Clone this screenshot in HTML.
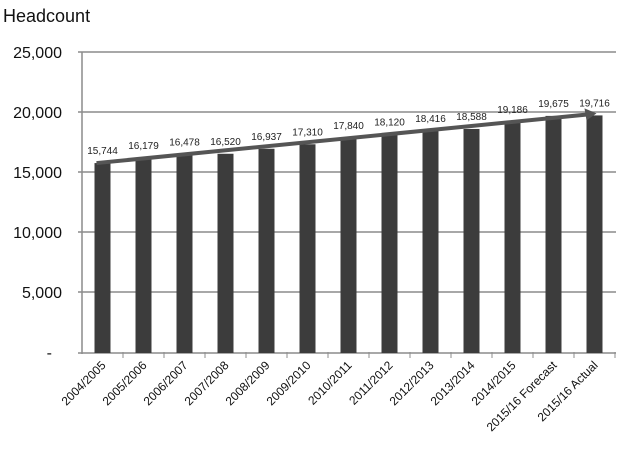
<!DOCTYPE html>
<html><head><meta charset="utf-8"><style>
body{margin:0;background:#fff;}
svg{display:block;font-family:"Liberation Sans",sans-serif;}
</style></head><body>
<svg id="chart" width="628" height="452">
<text x="3" y="22" font-size="18" fill="#111">Headcount</text>
<g id="grid"></g><g id="bars"></g><g id="labels"></g>
</svg>
<script>
const categories=["2004/2005","2005/2006","2006/2007","2007/2008","2008/2009","2009/2010","2010/2011","2011/2012","2012/2013","2013/2014","2014/2015","2015/16 Forecast","2015/16 Actual"];
const values=[15744,16179,16478,16520,16937,17310,17840,18120,18416,18588,19186,19675,19716];
const yTicks=[0,5000,10000,15000,20000,25000];
const yTickLabels=["-","5,000","10,000","15,000","20,000","25,000"];
const NS="http://www.w3.org/2000/svg";
const x0=82,step=41,y0=352,pxPer=60/5000;
const y=v=>y0-v*pxPer;
const xc=i=>x0+step*i+step/2;
function mk(tag,attrs,parent,text){const e=document.createElementNS(NS,tag);for(const k in attrs)e.setAttribute(k,attrs[k]);if(text!=null)e.textContent=text;parent.appendChild(e);return e;}
const svg=document.getElementById('chart');
const grid=document.getElementById('grid'),bars=document.getElementById('bars'),labels=document.getElementById('labels');
yTicks.forEach((t,i)=>{
  if(t>0){const l=mk('line',{x1:78,x2:616,y1:y(t),y2:y(t),stroke:'#8c8c8c','stroke-width':1.5},grid);
  
  }
  const tx=mk('text',{x:t===0?52:62,y:y(t)+6,'font-size':16,'text-anchor':'end',fill:'#111'},grid,yTickLabels[i]);
  
  
});
const ax=mk('line',{x1:82,x2:82,y1:y(25000),y2:y0+2,stroke:'#8c8c8c','stroke-width':1.5},grid);


const bx=mk('line',{x1:78,x2:616,y1:y0+1,y2:y0+1,stroke:'#8c8c8c','stroke-width':1.5},grid);


categories.forEach((c,i)=>{
  const tk=mk('line',{x1:x0+step*(i+1),x2:x0+step*(i+1),y1:y0,y2:y0+6,stroke:'#8c8c8c','stroke-width':1},grid);
  
  
  const r=mk('rect',{x:xc(i)-8,y:y(values[i]),width:16,height:y0-y(values[i])+1,fill:'#3c3c3c'},bars);
  
  
  const vl=mk('text',{x:xc(i),y:y(values[i])-9,'font-size':10,'text-anchor':'middle',fill:'#222'},labels,values[i].toLocaleString('en-US'));
  
  
  const cx=xc(i)+4,cy=y0+14;
  const cl=mk('text',{x:cx,y:cy,'font-size':12,'text-anchor':'end',fill:'#111',transform:`rotate(-45 ${cx} ${cy})`},labels,c);
  
  
});
// trend arrow from first to last value
const ax1=xc(0)-6,ay1=y(values[0]),ax2=xc(values.length-1)+2,ay2=y(values[values.length-1])-2;
const tr=mk('line',{x1:ax1,y1:ay1,x2:ax2-8,y2:ay2+1,stroke:'#555','stroke-width':4},labels);


const ah=mk('polygon',{points:`${ax2},${ay2} ${ax2-12},${ay2-5} ${ax2-10},${ay2+7}`,fill:'#555'},labels);


</script>
</body></html>
